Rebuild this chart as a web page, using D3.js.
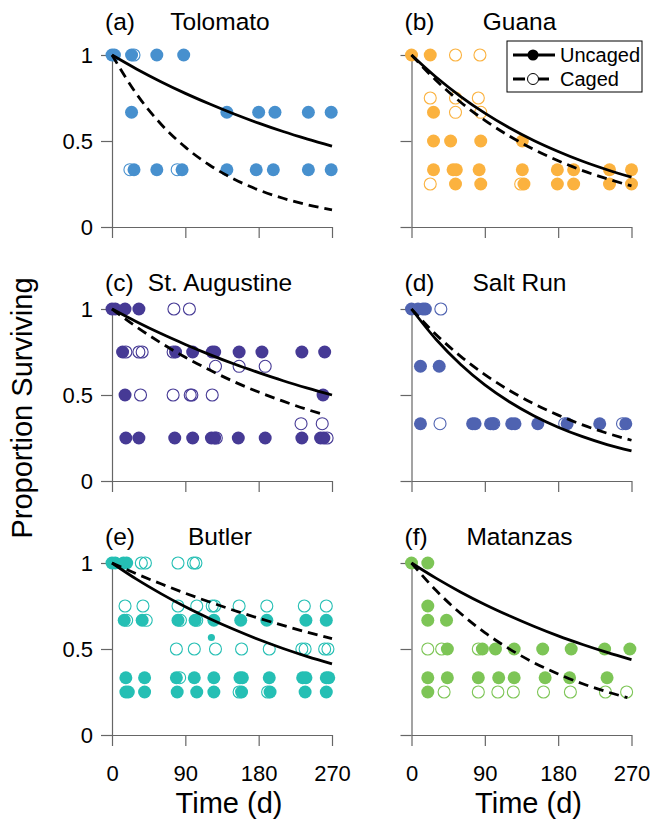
<!DOCTYPE html>
<html>
<head>
<meta charset="utf-8">
<script src="https://cdn.jsdelivr.net/npm/d3@7"></script>
<style>
  html, body { margin: 0; padding: 0; background: #fff; }
  svg { display: block; }
  text { font-family: "Liberation Sans", Arial, Helvetica, sans-serif; fill: #000; }
</style>
</head>
<body>
<svg id="chart" width="651" height="823"></svg>
<script>
// ---------------- DATA ----------------
const sites = ["Tolomato", "Guana", "St. Augustine", "Salt Run", "Butler", "Matanzas"];
const letters = ["(a)", "(b)", "(c)", "(d)", "(e)", "(f)"];
const siteColors = ["#4790CE", "#FBB23F", "#463A95", "#4F63B1", "#25BFB4", "#7DC556"];
const xTickValues = [0, 90, 180, 270];
const yTickValues = [0, 0.5, 1];
const yTickLabels = ["0", "0.5", "1"];
const legendLabels = ["Uncaged", "Caged"];
const xTitle = "Time (d)";
const yTitle = "Proportion Surviving";

// observed proportions surviving: [day, proportion]
const tolomatoUncaged = [[0,1],[3,1],[24,1],[55,1],[88,1],[24,0.667],[141,0.667],[180,0.667],[200,0.667],[241,0.667],[269,0.667],
  [27,0.333],[55,0.333],[86,0.333],[141,0.333],[177,0.333],[198,0.333],[241,0.333],[269,0.333]];
const tolomatoCaged = [[27,1],[22,0.333],[80,0.333]];

const guanaUncaged = [[0,1],[23,1],[27,0.667],[27,0.5],[48,0.5],[85,0.5],[136,0.5],
  [27,0.333],[51,0.333],[55,0.333],[83,0.333],[136,0.333],[179,0.333],[199,0.333],[243,0.333],[270,0.333],
  [54,0.25],[85,0.25],[138,0.25],[179,0.25],[199,0.25],[243,0.25],[270,0.25]];
const guanaCaged = [[54,1],[84,1],[23,0.75],[54,0.75],[82,0.75],[54,0.667],[85,0.667],[23,0.25],[134,0.25]];

const staugUncaged = [[0,1],[4,1],[16,1],[33,1],[13,0.75],[78,0.75],[99,0.75],[123,0.75],[126,0.75],[156,0.75],[184,0.75],[233,0.75],[261,0.75],
  [16,0.5],[259,0.5],[17,0.25],[33,0.25],[77,0.25],[99,0.25],[122,0.25],[126,0.25],[155,0.25],[188,0.25],[233,0.25],[256,0.25],[260,0.25]];
const staugCaged = [[76,1],[95,1],[17,0.75],[33,0.75],[37,0.75],[75,0.75],[127,0.667],[156,0.667],[188,0.667],
  [35,0.5],[75,0.5],[96,0.5],[98,0.5],[123,0.5],[232,0.333],[258,0.333],[128,0.25],[264,0.25]];

const saltrunUncaged = [[0,1],[8,1],[14,1],[17,1],[11,0.667],[34,0.667],[11,0.333],[75,0.333],[78,0.333],[97,0.333],[100,0.333],
  [123,0.333],[127,0.333],[155,0.333],[191,0.333],[231,0.333],[263,0.333]];
const saltrunCaged = [[36,1],[35,0.333],[101,0.333],[188,0.333],[259,0.333]];

const butlerUncaged = [[0,1],[4,1],[14,1],[18,1],[15,0.667],[37,0.667],[81,0.667],[102,0.667],[125,0.667],[158,0.667],[190,0.667],[238,0.667],[263,0.667],
  [17,0.333],[40,0.333],[79,0.333],[101,0.333],[125,0.333],[157,0.333],[160,0.333],[193,0.333],[234,0.333],[238,0.333],[263,0.333],[266,0.333],
  [17,0.25],[20,0.25],[40,0.25],[80,0.25],[104,0.25],[125,0.25],[159,0.25],[194,0.25],[237,0.25],[263,0.25]];
const butlerUncagedSmall = [[122,0.567]];
const butlerCaged = [[36,1],[41,1],[81,1],[100,1],[103,1],[16,0.75],[38,0.75],[81,0.75],[104,0.75],[123,0.75],[126,0.75],[156,0.75],[190,0.75],[236,0.75],[263,0.75],
  [18,0.667],[42,0.667],[84,0.667],[104,0.667],[79,0.5],[101,0.5],[127,0.5],[159,0.5],[193,0.5],[233,0.5],[237,0.5],[261,0.5],[265,0.5],
  [83,0.333],[156,0.25],[191,0.25]];

const matanzasUncaged = [[0,1],[20,1],[20,0.75],[20,0.667],[43,0.667],[44,0.5],[87,0.5],[103,0.5],[126,0.5],[161,0.5],[196,0.5],[237,0.5],[268,0.5],
  [20,0.333],[44,0.333],[82,0.333],[107,0.333],[126,0.333],[164,0.333],[194,0.333],[240,0.333],[20,0.25]];
const matanzasCaged = [[20,0.5],[37,0.5],[82,0.5],[40,0.25],[82,0.25],[106,0.25],[125,0.25],[162,0.25],[195,0.25],[238,0.25],[264,0.25]];

// fitted survival curves: [day, proportion]
const tolomatoUncagedFit = [[0,1],[30,0.919],[60,0.845],[90,0.777],[120,0.715],[150,0.657],[180,0.604],[210,0.555],[240,0.511],[270,0.470]];
const tolomatoCagedFit   = [[0,1],[30,0.774],[60,0.599],[90,0.464],[120,0.359],[150,0.278],[180,0.215],[210,0.167],[240,0.129],[270,0.100]];
const guanaUncagedFit    = [[0,1],[30,0.872],[60,0.760],[90,0.662],[120,0.577],[150,0.503],[180,0.439],[210,0.382],[240,0.333],[270,0.290]];
const guanaCagedFit      = [[0,1],[30,0.853],[60,0.727],[90,0.620],[120,0.529],[150,0.451],[180,0.385],[210,0.328],[240,0.280],[270,0.239]];
const staugUncagedFit    = [[0,1],[30,0.926],[60,0.857],[90,0.794],[120,0.735],[150,0.680],[180,0.630],[210,0.583],[240,0.540],[270,0.500]];
const staugCagedFit      = [[0,1],[30,0.896],[60,0.803],[90,0.719],[120,0.645],[150,0.577],[180,0.517],[210,0.464],[240,0.415],[258,0.389]];
const saltrunUncagedFit  = [[0,1],[30,0.824],[60,0.679],[90,0.559],[120,0.461],[150,0.380],[180,0.313],[210,0.258],[240,0.212],[270,0.175]];
const saltrunCagedFit    = [[0,1],[30,0.852],[60,0.726],[90,0.619],[120,0.527],[150,0.449],[180,0.383],[210,0.326],[240,0.278],[270,0.237]];
const butlerUncagedFit   = [[0,1],[30,0.906],[60,0.822],[90,0.745],[120,0.676],[150,0.613],[180,0.555],[210,0.503],[240,0.456],[270,0.414]];
const butlerCagedFit     = [[0,1],[30,0.937],[60,0.879],[90,0.824],[120,0.773],[150,0.724],[180,0.679],[210,0.637],[240,0.597],[270,0.560]];
const matanzasUncagedFit = [[0,1],[30,0.912],[60,0.832],[90,0.759],[120,0.693],[150,0.632],[180,0.576],[210,0.526],[240,0.480],[270,0.438]];
const matanzasCagedFit   = [[0,1],[30,0.841],[60,0.708],[90,0.595],[120,0.501],[150,0.421],[180,0.355],[210,0.298],[240,0.251],[265,0.217]];

const panels = [
  { uncaged: tolomatoUncaged, caged: tolomatoCaged, small: [], uFit: tolomatoUncagedFit, cFit: tolomatoCagedFit },
  { uncaged: guanaUncaged, caged: guanaCaged, small: [], uFit: guanaUncagedFit, cFit: guanaCagedFit },
  { uncaged: staugUncaged, caged: staugCaged, small: [], uFit: staugUncagedFit, cFit: staugCagedFit },
  { uncaged: saltrunUncaged, caged: saltrunCaged, small: [], uFit: saltrunUncagedFit, cFit: saltrunCagedFit },
  { uncaged: butlerUncaged, caged: butlerCaged, small: butlerUncagedSmall, uFit: butlerUncagedFit, cFit: butlerCagedFit },
  { uncaged: matanzasUncaged, caged: matanzasCaged, small: [], uFit: matanzasUncagedFit, cFit: matanzasCagedFit }
];

// ---------------- LAYOUT ----------------
const svg = d3.select("#chart");
const colX = [112, 411.5];
const rowY = [55, 309, 563];
const pw = 220, ph = 172;
const R = 6.5;
const axisColor = "#666";

panels.forEach((p, i) => {
  const col = i % 2, row = Math.floor(i / 2);
  const g = svg.append("g").attr("transform", `translate(${colX[col]},${rowY[row]})`);
  const x = d3.scaleLinear().domain([0, 270]).range([0, pw]);
  const y = d3.scaleLinear().domain([0, 1]).range([ph, 0]);
  const color = siteColors[i];

  // axes
  const xa = g.append("g").attr("transform", `translate(0,${ph})`)
    .call(d3.axisBottom(x).tickValues(xTickValues).tickSize(11).tickSizeOuter(0).tickPadding(19)
      .tickFormat(row === 2 ? d3.format("d") : () => ""));
  const ya = g.append("g")
    .call(d3.axisLeft(y).tickValues(yTickValues).tickSize(11).tickSizeOuter(0).tickPadding(8)
      .tickFormat(col === 0 ? (d, k) => yTickLabels[k] : () => ""));
  [xa, ya].forEach(a => {
    a.selectAll("path.domain").attr("stroke", axisColor).attr("stroke-width", 1.2);
    a.selectAll(".tick line").attr("stroke", axisColor).attr("stroke-width", 1.2);
    a.selectAll(".tick text").style("font-size", "22px").style("font-family", '"Liberation Sans", Arial, sans-serif').attr("fill", "#000");
  });

  // points
  g.append("g").selectAll("circle").data(p.uncaged).join("circle")
    .attr("cx", d => x(d[0])).attr("cy", d => y(d[1])).attr("r", R)
    .attr("fill", color);
  g.append("g").selectAll("circle").data(p.small).join("circle")
    .attr("cx", d => x(d[0])).attr("cy", d => y(d[1])).attr("r", R * 0.55)
    .attr("fill", color);
  g.append("g").selectAll("circle").data(p.caged).join("circle")
    .attr("cx", d => x(d[0])).attr("cy", d => y(d[1])).attr("r", R - 0.5)
    .attr("fill", "none").attr("stroke", color).attr("stroke-width", 1.1);

  // fitted curves
  const line = d3.line().x(d => x(d[0])).y(d => y(d[1])).curve(d3.curveMonotoneX);
  g.append("path").datum(p.uFit).attr("d", line)
    .attr("fill", "none").attr("stroke", "#000").attr("stroke-width", 2.8);
  g.append("path").datum(p.cFit).attr("d", line)
    .attr("fill", "none").attr("stroke", "#000").attr("stroke-width", 2.8)
    .attr("stroke-dasharray", "10,6");

  // panel titles
  const ty = row === 0 ? -25 : -18.5;
  g.append("text").attr("x", -7).attr("y", ty).style("font-size", "24.5px").text(letters[i]);
  g.append("text").attr("x", pw / 2 - 2).attr("y", ty).attr("text-anchor", "middle")
    .style("font-size", "24.5px").text(sites[i]);

  // x title
  if (row === 2) {
    g.append("text").attr("x", pw / 2 + 7).attr("y", ph + 78).attr("text-anchor", "middle")
      .style("font-size", "29px").text(xTitle);
  }
});

// y title
svg.append("text").attr("transform", "translate(32,408) rotate(-90)")
  .attr("text-anchor", "middle").style("font-size", "29px").text(yTitle);

// legend
const lg = svg.append("g").attr("transform", "translate(507,41)");
lg.append("rect").attr("width", 135).attr("height", 51).attr("fill", "#fff")
  .attr("stroke", "#000").attr("stroke-width", 1);
lg.append("line").attr("x1", 6).attr("x2", 48).attr("y1", 14).attr("y2", 14)
  .attr("stroke", "#000").attr("stroke-width", 2.8);
lg.append("circle").attr("cx", 26).attr("cy", 14).attr("r", 5.5).attr("fill", "#000");
lg.append("line").attr("x1", 6).attr("x2", 48).attr("y1", 38).attr("y2", 38)
  .attr("stroke", "#000").attr("stroke-width", 2.8).attr("stroke-dasharray", "12,8,4,0");
lg.append("circle").attr("cx", 26).attr("cy", 38).attr("r", 5.5).attr("fill", "#fff")
  .attr("stroke", "#000").attr("stroke-width", 1);
lg.selectAll("text.leg").data(legendLabels).join("text").attr("class", "leg")
  .attr("x", 53).attr("y", (d, k) => 21 + k * 24).style("font-size", "20px").text(d => d);
</script>
</body>
</html>
